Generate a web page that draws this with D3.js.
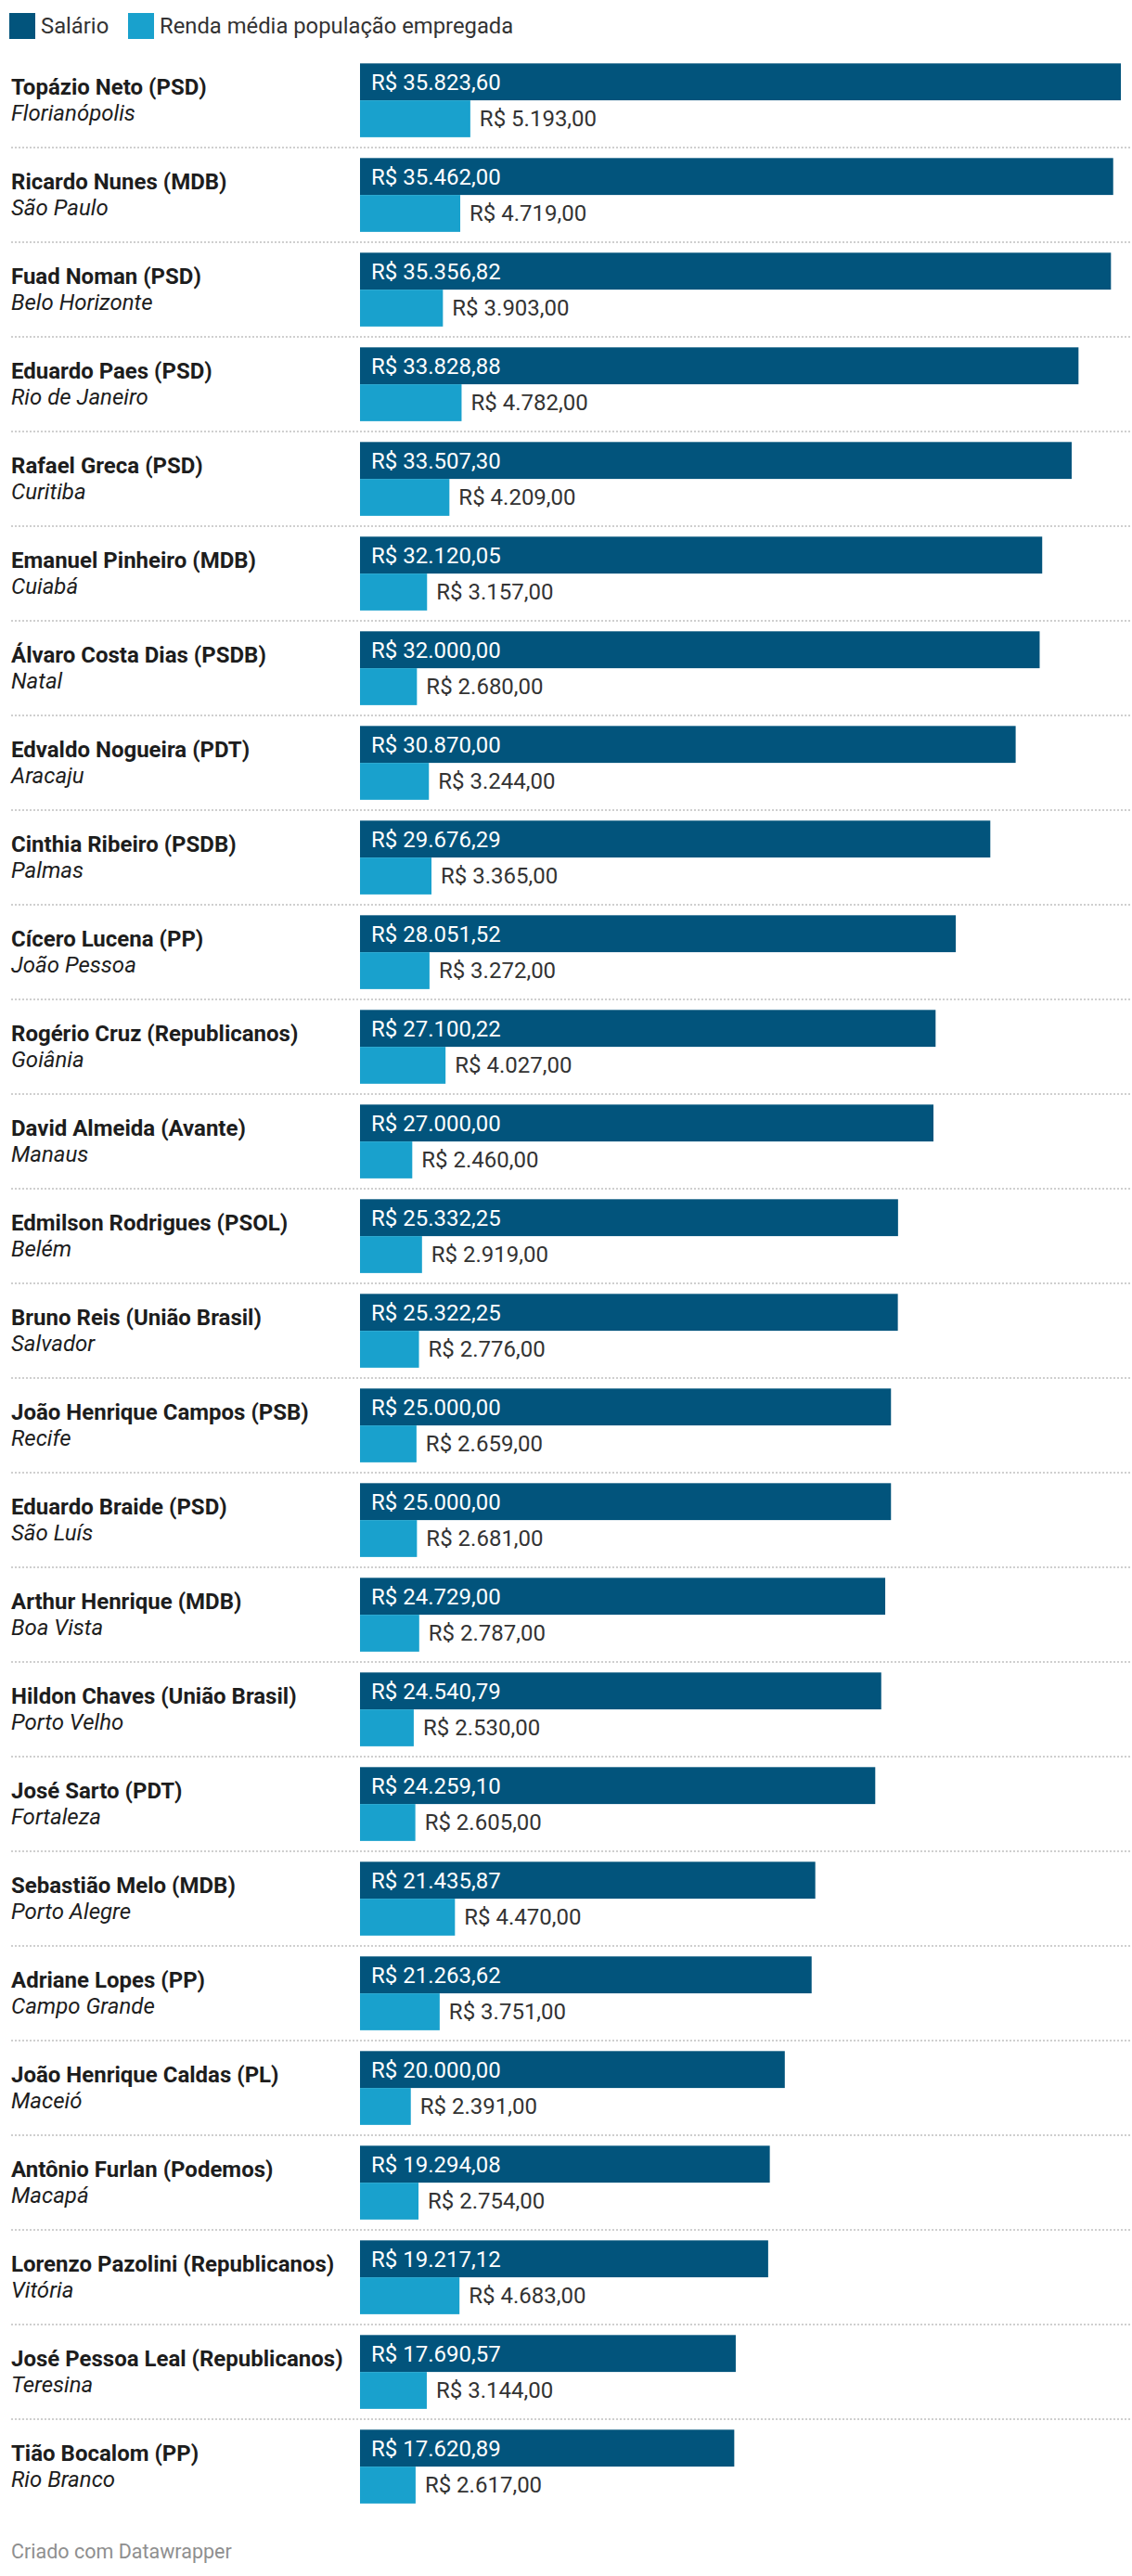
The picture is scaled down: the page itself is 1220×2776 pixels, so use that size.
<!DOCTYPE html>
<html>
<head>
<meta charset="utf-8">
<script src="https://cdn.jsdelivr.net/npm/d3@7"></script>
<style>
  html, body { margin: 0; padding: 0; background: #fff; }
  svg { display: block; font-family: Roboto, "Noto Sans", sans-serif; }
</style>
</head>
<body>
<svg id="chart" width="1220" height="2776"></svg>
<script>
const names = [
  "Topázio Neto (PSD)", "Ricardo Nunes (MDB)", "Fuad Noman (PSD)", "Eduardo Paes (PSD)",
  "Rafael Greca (PSD)", "Emanuel Pinheiro (MDB)", "Álvaro Costa Dias (PSDB)", "Edvaldo Nogueira (PDT)",
  "Cinthia Ribeiro (PSDB)", "Cícero Lucena (PP)", "Rogério Cruz (Republicanos)", "David Almeida (Avante)",
  "Edmilson Rodrigues (PSOL)", "Bruno Reis (União Brasil)", "João Henrique Campos (PSB)", "Eduardo Braide (PSD)",
  "Arthur Henrique (MDB)", "Hildon Chaves (União Brasil)", "José Sarto (PDT)", "Sebastião Melo (MDB)",
  "Adriane Lopes (PP)", "João Henrique Caldas (PL)", "Antônio Furlan (Podemos)", "Lorenzo Pazolini (Republicanos)",
  "José Pessoa Leal (Republicanos)", "Tião Bocalom (PP)"
];
const cities = [
  "Florianópolis", "São Paulo", "Belo Horizonte", "Rio de Janeiro",
  "Curitiba", "Cuiabá", "Natal", "Aracaju",
  "Palmas", "João Pessoa", "Goiânia", "Manaus",
  "Belém", "Salvador", "Recife", "São Luís",
  "Boa Vista", "Porto Velho", "Fortaleza", "Porto Alegre",
  "Campo Grande", "Maceió", "Macapá", "Vitória",
  "Teresina", "Rio Branco"
];
const salario = [
  35823.60, 35462.00, 35356.82, 33828.88,
  33507.30, 32120.05, 32000.00, 30870.00,
  29676.29, 28051.52, 27100.22, 27000.00,
  25332.25, 25322.25, 25000.00, 25000.00,
  24729.00, 24540.79, 24259.10, 21435.87,
  21263.62, 20000.00, 19294.08, 19217.12,
  17690.57, 17620.89
];
const renda = [
  5193, 4719, 3903, 4782,
  4209, 3157, 2680, 3244,
  3365, 3272, 4027, 2460,
  2919, 2776, 2659, 2681,
  2787, 2530, 2605, 4470,
  3751, 2391, 2754, 4683,
  3144, 2617
];
const seriesKeys = ["salario", "renda"];
const seriesLabels = ["Salário", "Renda média população empregada"];
const seriesColors = ["#02547c", "#19a1cd"];
const footerText = "Criado com Datawrapper";

const rows = names.map((n, i) => ({ name: n, city: cities[i], salario: salario[i], renda: renda[i] }));

const svg = d3.select("#chart");
const W = 1220;

const fmt = d3.formatLocale({ decimal: ",", thousands: ".", grouping: [3], currency: ["R$ ", ""] }).format("$,.2f");

const x = d3.scaleLinear().domain([0, d3.max(salario)]).range([388, 1208]);
const y = d3.scaleBand().domain(names).range([57.1, 57.1 + 26 * 102]).paddingInner(0.22).paddingOuter(0.11);
const ySub = d3.scaleBand().domain(seriesKeys).range([0, y.bandwidth()]);
const color = d3.scaleOrdinal().domain(seriesKeys).range(seriesColors);

// Legend
const legend = svg.append("g");
const legX = [10, 138];
seriesKeys.forEach((k, i) => {
  legend.append("rect").attr("x", legX[i]).attr("y", 14).attr("width", 28).attr("height", 28).attr("fill", color(k));
  legend.append("text").attr("x", legX[i] + 34).attr("y", 28).attr("dy", "0.35em")
    .attr("font-size", 23.8).attr("fill", "#333").text(seriesLabels[i]);
});

// Separators
svg.append("g").selectAll("line").data(rows.slice(1)).join("line")
  .attr("x1", 12).attr("x2", W)
  .attr("y1", d => y(d.name) - y.step() * y.paddingInner() / 2)
  .attr("y2", d => y(d.name) - y.step() * y.paddingInner() / 2)
  .attr("stroke", "#cfcfcf").attr("stroke-width", 2).attr("stroke-dasharray", "2,2");

const g = svg.append("g").selectAll("g").data(rows).join("g")
  .attr("transform", d => `translate(0,${y(d.name)})`);

const mid = y.bandwidth() / 2;
g.append("text").attr("x", 12).attr("y", mid - 6)
  .attr("font-size", 24).attr("font-weight", "bold").attr("fill", "#1d1d1d").text(d => d.name);
g.append("text").attr("x", 12).attr("y", mid + 21.5)
  .attr("font-size", 24).attr("font-style", "italic").attr("fill", "#1d1d1d").text(d => d.city);

g.selectAll("rect.bar").data(d => seriesKeys.map(k => ({ key: k, value: d[k] }))).join("rect")
  .attr("class", "bar")
  .attr("x", x(0)).attr("y", d => ySub(d.key))
  .attr("width", d => x(d.value) - x(0)).attr("height", ySub.bandwidth())
  .attr("fill", d => color(d.key));

g.append("text").attr("x", x(0) + 12).attr("y", ySub("salario") + ySub.bandwidth() / 2).attr("dy", "0.35em")
  .attr("font-size", 24).attr("fill", "#fff").text(d => fmt(d.salario));
g.append("text").attr("x", d => x(d.renda) + 10).attr("y", ySub("renda") + ySub.bandwidth() / 2).attr("dy", "0.35em")
  .attr("font-size", 24).attr("fill", "#333").text(d => fmt(d.renda));

svg.append("text").attr("x", 12).attr("y", 2757).attr("font-size", 21.5).attr("fill", "#8f8f8f").text(footerText);
</script>
</body>
</html>
